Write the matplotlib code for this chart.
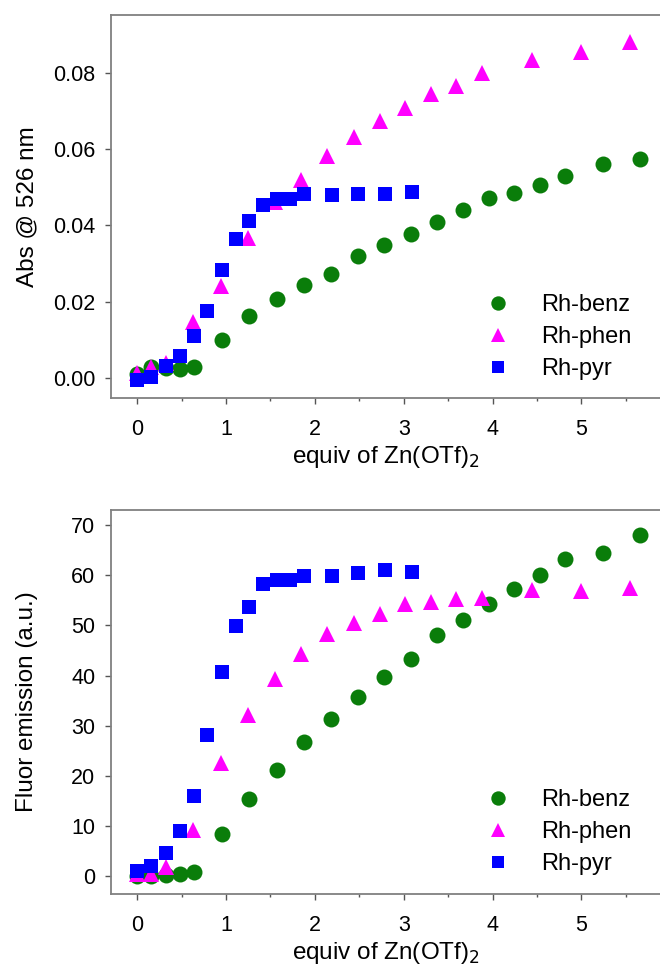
import numpy as np
import matplotlib
matplotlib.use("Agg")
import matplotlib.pyplot as plt

plt.rcParams["font.family"] = ["Liberation Sans", "DejaVu Sans"]

# x values (equiv of Zn(OTf)2)
x_benz = [0, 0.16, 0.32, 0.48, 0.64, 0.95, 1.26, 1.57, 1.88, 2.18, 2.48, 2.78, 3.08, 3.38, 3.67, 3.96, 4.24, 4.53, 4.82, 5.24, 5.66]
x_phen = [0, 0.16, 0.32, 0.63, 0.94, 1.25, 1.55, 1.84, 2.14, 2.44, 2.73, 3.02, 3.31, 3.59, 3.88, 4.44, 5.0, 5.55]
x_pyr = [0, 0.16, 0.32, 0.48, 0.64, 0.79, 0.95, 1.11, 1.26, 1.42, 1.57, 1.72, 1.88, 2.19, 2.48, 2.79, 3.09]

# absorbance at 526 nm
abs_benz = [0.0011, 0.0029, 0.0026, 0.0024, 0.0030, 0.0099, 0.0164, 0.0207, 0.0245, 0.0273, 0.0319, 0.0349, 0.0377, 0.0408, 0.0441, 0.0472, 0.0485, 0.0506, 0.0530, 0.0561, 0.0575]
abs_phen = [0.0013, 0.0028, 0.0039, 0.0146, 0.0242, 0.0367, 0.0462, 0.0518, 0.0581, 0.0631, 0.0673, 0.0708, 0.0743, 0.0765, 0.0800, 0.0833, 0.0855, 0.0880]
abs_pyr = [-0.0006, 0.0004, 0.0031, 0.0059, 0.0111, 0.0175, 0.0284, 0.0364, 0.0412, 0.0453, 0.0470, 0.0470, 0.0481, 0.0479, 0.0483, 0.0481, 0.0488]

# fluorescence emission
fl_benz = [0.0, 0.0, 0.1, 0.3, 0.7, 8.4, 15.4, 21.2, 26.7, 31.4, 35.7, 39.7, 43.4, 48.0, 51.0, 54.2, 57.3, 60.1, 63.3, 64.5, 68.0]
fl_phen = [0.3, 0.3, 1.7, 9.2, 22.6, 32.2, 39.4, 44.3, 48.2, 50.5, 52.2, 54.2, 54.6, 55.3, 55.4, 57.0, 56.8, 57.4]
fl_pyr = [0.9, 1.9, 4.5, 8.9, 16.0, 28.1, 40.7, 49.8, 53.7, 58.2, 59.1, 59.1, 59.9, 59.9, 60.5, 61.0, 60.7]

labels = ["Rh-benz", "Rh-phen", "Rh-pyr"]
green = "#0a7d0a"
spine_col = "#808080"

fig = plt.figure(figsize=(6.6, 9.67), dpi=100)
ax1 = fig.add_axes([111 / 660, 1 - 398 / 967, 1 - 111 / 660, 383 / 967])
ax2 = fig.add_axes([111 / 660, 1 - 894 / 967, 1 - 111 / 660, 384 / 967])


def style(ax):
    ax.spines["right"].set_visible(False)
    for s in ["top", "left", "bottom"]:
        ax.spines[s].set_color(spine_col)
        ax.spines[s].set_linewidth(1.3)
    ax.set_xlim(-0.296, 5.886)
    ax.set_xticks([0, 1, 2, 3, 4, 5])
    ax.set_xticks(np.arange(0.5, 6, 1), minor=True)
    ax.tick_params(axis="both", which="major", direction="out", length=4.2,
                   width=1, color="#555555", labelsize=15.5, pad=7)
    ax.tick_params(axis="x", which="minor", direction="out", length=2.5,
                   width=1, color="#555555")
    ax.tick_params(axis="x", which="major", pad=11)
    ax.set_xlabel(r"equiv of Zn(OTf)$_2$", fontsize=17.5)
    ax.xaxis.set_label_coords(0.5, -0.12)
    ax.yaxis.set_label_coords(-0.133, 0.5)


def scatter_set(ax, yb, yph, yp):
    ax.plot(x_benz, yb, "o", color=green, ms=11.5, mew=0, label=labels[0])
    ax.plot(x_phen, yph, "^", color="#ff00ff", ms=11.2, mew=0, label=labels[1])
    ax.plot(x_pyr, yp, "s", color="#0000ff", ms=9.4, mew=0, label=labels[2])


scatter_set(ax1, abs_benz, abs_phen, abs_pyr)
style(ax1)
ax1.set_ylim(-0.0052, 0.0951)
ax1.set_yticks([0, 0.02, 0.04, 0.06, 0.08])
ax1.set_yticklabels(["0.00", "0.02", "0.04", "0.06", "0.08"])
ax1.set_ylabel("Abs @ 526 nm", fontsize=17.5)
ax1.legend(loc="center left", bbox_to_anchor=(486 / 660, 1 - 337 / 967),
           bbox_transform=fig.transFigure, frameon=False, fontsize=17,
           handlelength=1.0, handletextpad=1.32, labelspacing=0.42,
           borderpad=0, borderaxespad=0, markerscale=0.9)

scatter_set(ax2, fl_benz, fl_phen, fl_pyr)
style(ax2)
ax2.set_ylim(-3.6, 73.05)
ax2.set_yticks([0, 10, 20, 30, 40, 50, 60, 70])
ax2.set_ylabel("Fluor emission (a.u.)", fontsize=17.5)
ax2.legend(loc="center left", bbox_to_anchor=(486 / 660, 1 - 832 / 967),
           bbox_transform=fig.transFigure, frameon=False, fontsize=17,
           handlelength=1.0, handletextpad=1.32, labelspacing=0.42,
           borderpad=0, borderaxespad=0, markerscale=0.9)

fig.savefig("out.png", dpi=100)
